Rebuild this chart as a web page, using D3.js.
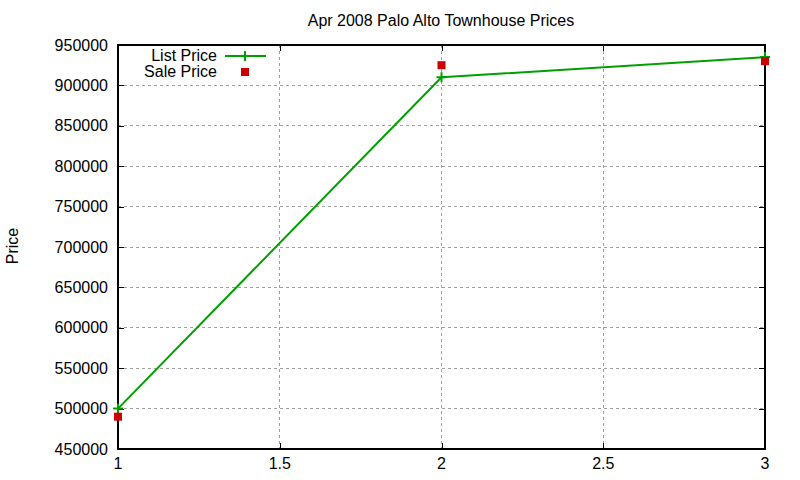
<html>
<head>
    <script src="https://d3js.org/d3.v7.min.js"></script>
    <style>
        body { margin: 0; background: #fff; }
        text { font-family: "Liberation Sans", Arial, sans-serif; fill: #000; }
    </style>
</head>
<body>
    <svg id="svg" width="800" height="480"></svg>
    <script>
        // data
        const xs = [1, 2, 3]
        const listPrice = [500000, 910000, 935000]
        const salePrice = [490000, 925000, 930000]
        const xTicks = [1, 1.5, 2, 2.5, 3]
        const yTicks = [450000, 500000, 550000, 600000, 650000, 700000, 750000, 800000, 850000, 900000, 950000]

        const mLeft = 118, mRight = 765, mTop = 45, mBottom = 449
        const svg = d3.select('#svg')

        const x = d3.scaleLinear().domain([1, 3]).range([mLeft, mRight])
        const y = d3.scaleLinear().domain([450000, 950000]).range([mBottom, mTop])

        // grid
        svg.append('g').selectAll('line').data(xTicks.slice(1, -1)).enter().append('line')
            .attr('x1', d => x(d)).attr('x2', d => x(d)).attr('y1', mTop).attr('y2', mBottom)
            .attr('stroke', '#a0a0a0').attr('stroke-dasharray', '3,3').attr('shape-rendering', 'crispEdges')
        svg.append('g').selectAll('line').data(yTicks.slice(1, -1)).enter().append('line')
            .attr('x1', mLeft).attr('x2', mRight).attr('y1', d => y(d)).attr('y2', d => y(d))
            .attr('stroke', '#a0a0a0').attr('stroke-dasharray', '3,3').attr('shape-rendering', 'crispEdges')

        // axes with inward ticks
        svg.append('g').attr('transform', `translate(${mLeft},0)`)
            .call(d3.axisRight(y).tickValues(yTicks).tickSize(6).tickFormat(''))
        svg.append('g').attr('transform', `translate(${mRight},0)`)
            .call(d3.axisLeft(y).tickValues(yTicks).tickSize(6).tickFormat(''))
        svg.append('g').attr('transform', `translate(0,${mBottom})`)
            .call(d3.axisTop(x).tickValues(xTicks).tickSize(6).tickFormat(''))
        svg.append('g').attr('transform', `translate(0,${mTop})`)
            .call(d3.axisBottom(x).tickValues(xTicks).tickSize(6).tickFormat(''))
        svg.selectAll('.domain').remove()
        svg.selectAll('.tick line').attr('stroke', '#000').attr('shape-rendering', 'crispEdges')

        svg.append('rect').attr('x', mLeft).attr('y', mTop).attr('width', mRight - mLeft).attr('height', mBottom - mTop)
            .attr('fill', 'none').attr('stroke', '#000').attr('stroke-width', 1.5).attr('shape-rendering', 'crispEdges')

        // tick labels
        svg.append('g').selectAll('text').data(yTicks).enter().append('text')
            .attr('x', mLeft - 10).attr('y', d => y(d)).attr('dy', '0.35em')
            .attr('text-anchor', 'end').attr('font-size', 16).text(d => d)
        svg.append('g').selectAll('text').data(xTicks).enter().append('text')
            .attr('x', d => x(d)).attr('y', mBottom + 20)
            .attr('text-anchor', 'middle').attr('font-size', 16).text(d => d)

        svg.append('text').attr('x', 441).attr('y', 26).attr('text-anchor', 'middle')
            .attr('font-size', 16).text('Apr 2008 Palo Alto Townhouse Prices')
        svg.append('text').attr('transform', 'translate(18,246) rotate(-90)').attr('text-anchor', 'middle')
            .attr('font-size', 16).text('Price')

        // list price line
        const line = d3.line().x((d, i) => x(xs[i])).y(d => y(d))
        svg.append('path').datum(listPrice).attr('d', line)
            .attr('fill', 'none').attr('stroke', '#00a000').attr('stroke-width', 2)
        svg.append('g').selectAll('path').data(listPrice).enter().append('path')
            .attr('d', (d, i) => `M${x(xs[i]) - 5},${y(d)}h10M${x(xs[i])},${y(d) - 5}v10`)
            .attr('stroke', '#00a000').attr('stroke-width', 2)

        // sale price points
        svg.append('g').selectAll('rect').data(salePrice).enter().append('rect')
            .attr('x', (d, i) => x(xs[i]) - 4).attr('y', d => y(d) - 4)
            .attr('width', 8).attr('height', 8).attr('fill', '#cc0000')

        // legend
        svg.append('text').attr('x', 217).attr('y', 55).attr('dy', '0.35em').attr('text-anchor', 'end')
            .attr('font-size', 16).text('List Price')
        svg.append('line').attr('x1', 225).attr('x2', 266).attr('y1', 56).attr('y2', 56)
            .attr('stroke', '#00a000').attr('stroke-width', 2)
        svg.append('path').attr('d', 'M240,56h10M245,51v10').attr('stroke', '#00a000').attr('stroke-width', 2)
        svg.append('text').attr('x', 217).attr('y', 71).attr('dy', '0.35em').attr('text-anchor', 'end')
            .attr('font-size', 16).text('Sale Price')
        svg.append('rect').attr('x', 241).attr('y', 68).attr('width', 8).attr('height', 8).attr('fill', '#cc0000')
    </script>
</body>
</html>
